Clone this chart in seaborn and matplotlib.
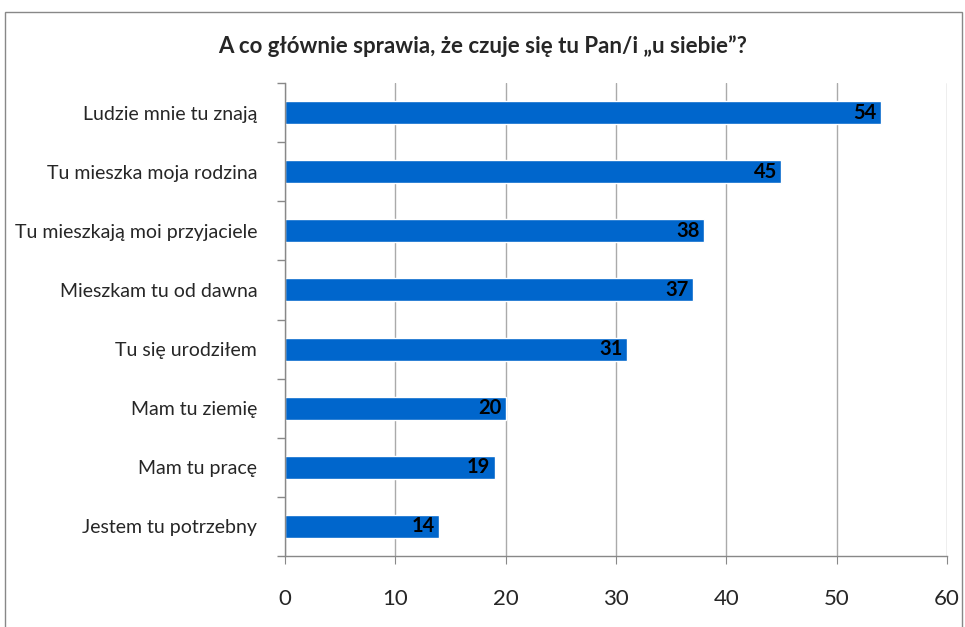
import matplotlib
matplotlib.use("Agg")
import matplotlib.pyplot as plt
import seaborn as sns
import pandas as pd
from matplotlib.patches import Rectangle

# --- DANE ---
categories = [
    "Ludzie mnie tu znają",
    "Tu mieszka moja rodzina",
    "Tu mieszkają moi przyjaciele",
    "Mieszkam tu od dawna",
    "Tu się urodziłem",
    "Mam tu ziemię",
    "Mam tu pracę",
    "Jestem tu potrzebny",
]
values = [54, 45, 38, 37, 31, 20, 19, 14]
x_ticks = [0, 10, 20, 30, 40, 50, 60]
title = "A co głównie sprawia, że czuje się tu Pan/i „u siebie”?"

df = pd.DataFrame({"kategoria": categories, "procent": values})

sns.set_style("white")
plt.rcParams["font.family"] = ["Lato", "DejaVu Sans"]

fig = plt.figure(figsize=(9.65, 6.27), dpi=100)
ax = fig.add_axes([0.2953, 0.1132, 0.686, 0.7544])

sns.barplot(data=df, y="kategoria", x="procent", orient="h", color="#0066CC",
            saturation=1, width=0.39, ax=ax)

ax.set_xlim(0, 60)
ax.set_ylim(len(categories) - 0.5, -0.5)
ax.set_xticks(x_ticks)
ax.set_xticklabels([str(t) for t in x_ticks], fontsize=16)
ax.tick_params(axis="x", bottom=True, length=6, color="#888888", direction="out", pad=18)
ax.tick_params(axis="y", which="major", length=0, labelsize=14, pad=20)
ax.set_xlabel("")
ax.set_ylabel("")
ax.grid(axis="x", color="#AAAAAA", linewidth=1)
ax.set_axisbelow(True)

# znaczniki kategorii (granice)
ax.set_yticks([i + 0.5 for i in range(-1, len(categories))], minor=True)
ax.tick_params(axis="y", which="minor", left=True, length=6, width=1,
               color="#888888", direction="out")

for side in ["top", "right"]:
    ax.spines[side].set_visible(False)
for side in ["left", "bottom"]:
    ax.spines[side].set_color("#888888")
    ax.spines[side].set_linewidth(1)

# etykiety wartości
for i, v in enumerate(values):
    ax.text(v - 0.4, i, str(v), ha="right", va="center", fontsize=14.5,
            fontweight="bold", color="black")

fig.text(0.5, 0.927, title, ha="center", va="center", fontsize=16, fontweight="bold")

# ramka wykresu
fig.patches.append(Rectangle((5 / 965, -0.01), 957 / 965, 1 - 12 / 627 + 0.01,
                             transform=fig.transFigure, fill=False,
                             edgecolor="#888888", linewidth=1))

fig.savefig("out.png", dpi=100)
